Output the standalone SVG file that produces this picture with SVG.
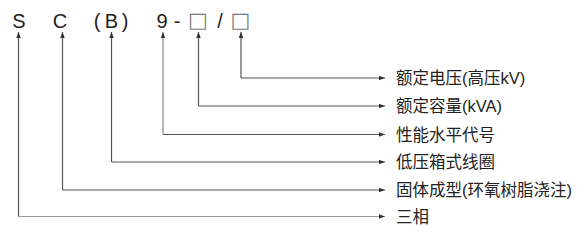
<svg xmlns="http://www.w3.org/2000/svg" width="587" height="250" viewBox="0 0 587 250">
<style>
.code{font-family:"Liberation Sans",Arial,sans-serif;font-size:20px;fill:#222;text-anchor:middle}
.box{font-family:"DejaVu Sans",sans-serif;font-size:21px;fill:#777;text-anchor:middle}
.lbl{font-family:"Liberation Sans","Noto Sans CJK SC",sans-serif;font-size:16.5px;fill:#222}
.ln{fill:none;stroke:#555;stroke-width:1.2}
</style>
<defs>
<marker id="ah" viewBox="0 0 8 6" refX="8" refY="3" markerWidth="6" markerHeight="4.5" markerUnits="userSpaceOnUse" orient="auto">
<path d="M0,0 L8,3 L0,6 Z" fill="#333"/>
</marker>
</defs>
<rect width="587" height="250" fill="#fff"/>
<g id="code">
<text class="code" x="19" y="28">S</text>
<text class="code" x="60" y="28">C</text>
<text class="code" x="97" y="28">(</text>
<text class="code" x="111.5" y="28">B</text>
<text class="code" x="125" y="28">)</text>
<text class="code" x="162" y="28">9</text>
<text class="code" x="177" y="28">-</text>
<text class="box" x="198" y="26.5">□</text>
<text class="code" x="220" y="28" fill="#666">/</text>
<text class="box" x="240.5" y="26.5">□</text>
</g>
<g id="connectors">
<path class="ln" d="M241,78 V32" marker-end="url(#ah)"/>
<path class="ln" d="M241,78 H385" marker-end="url(#ah)"/>
<path class="ln" d="M198.5,106 V32" marker-end="url(#ah)"/>
<path class="ln" d="M198.5,106 H385" marker-end="url(#ah)"/>
<path class="ln" d="M163,134.5 V32" marker-end="url(#ah)" style="stroke:#888"/>
<path class="ln" d="M163,134.5 H385" marker-end="url(#ah)"/>
<path class="ln" d="M111.5,162 V32" marker-end="url(#ah)"/>
<path class="ln" d="M111.5,162 H385" marker-end="url(#ah)"/>
<path class="ln" d="M62.5,190 V32" marker-end="url(#ah)"/>
<path class="ln" d="M62.5,190 H385" marker-end="url(#ah)"/>
<path class="ln" d="M18.5,216.5 V32" marker-end="url(#ah)"/>
<path class="ln" d="M18.5,216.5 H385" marker-end="url(#ah)" style="stroke:#999"/>
</g>
<g id="labels">
<text id="l1" class="lbl" x="396" y="84">额定电压(高压kV)</text>
<text id="l2" class="lbl" x="396" y="112">额定容量(kVA)</text>
<text id="l3" class="lbl" x="396" y="140.5">性能水平代号</text>
<text id="l4" class="lbl" x="396" y="168">低压箱式线圈</text>
<text id="l5" class="lbl" x="396" y="196">固体成型(环氧树脂浇注)</text>
<text id="l6" class="lbl" x="396" y="222.5">三相</text>
</g>
</svg>
